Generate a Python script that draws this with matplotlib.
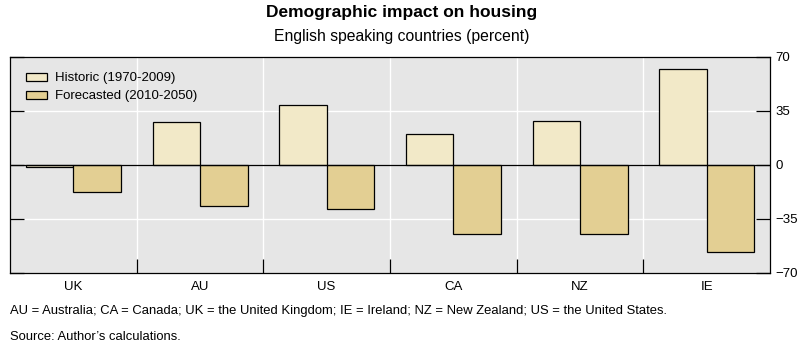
import matplotlib.pyplot as plt
import numpy as np

plt.rcParams['font.family'] = ['Liberation Sans', 'DejaVu Sans']

# data
countries = ["UK", "AU", "US", "CA", "NZ", "IE"]
historic = [-1.3, 28, 39, 20.3, 28.7, 62.4]
forecast = [-17.5, -26.4, -28.5, -45.2, -45.2, -56.4]
y_ticks = [70, 35, 0, -35, -70]

def main():
    fig = plt.figure(figsize=(8.03, 3.49), dpi=100)
    ax = fig.add_axes([0.01245, 0.2186, 0.9465, 0.6181])
    ax.set_facecolor("#e6e6e6")

    x = np.arange(len(countries))
    w = 0.375
    ax.bar(x - w / 2, historic, w, color="#f2e9c8", edgecolor="black",
           linewidth=0.9, label="Historic (1970-2009)", zorder=3)
    ax.bar(x + w / 2, forecast, w, color="#e3cf93", edgecolor="black",
           linewidth=0.9, label="Forecasted (2010-2050)", zorder=3)

    ax.set_xlim(-0.5, len(countries) - 0.5)
    ax.set_ylim(-70, 70)
    ax.axhline(0, color="black", linewidth=0.9, zorder=4)

    # group boundaries: white grid + tick marks
    bounds = np.arange(len(countries) + 1) - 0.5
    ax.set_xticks(bounds[1:-1])
    ax.set_xticklabels([])
    ax.set_xticks(x, minor=True)
    ax.set_xticklabels(countries, minor=True, fontsize=9.5)
    ax.tick_params(axis="x", which="major", direction="in", length=10,
                   width=0.9, color="black")
    ax.tick_params(axis="x", which="minor", length=0, pad=6)
    for b in bounds[1:-1]:
        ax.axvline(b, color="white", linewidth=1.0, zorder=1)

    ax.set_yticks(y_ticks)
    ax.set_yticklabels(["70", "35", "0", "\u221235", "\u221270"], fontsize=9.5)
    ax.yaxis.tick_right()
    ax.tick_params(axis="y", direction="in", length=10, width=0.9,
                   left=True, right=True, labelleft=False, labelright=True,
                   pad=4)
    for v in [35, -35]:
        ax.axhline(v, color="white", linewidth=1.0, zorder=1)

    for s in ax.spines.values():
        s.set_linewidth(0.9)
        s.set_color("black")

    ax.legend(loc="upper left", frameon=False, fontsize=9.5,
              handlelength=1.65, handleheight=0.6, handletextpad=0.55,
              bbox_to_anchor=(0.0084, 0.971), borderaxespad=0.3,
              labelspacing=0.45)

    fig.text(0.5, 1 - 12 / 349, "Demographic impact on housing", ha="center",
             va="center", fontsize=12.5, fontweight="bold")
    fig.text(0.5, 1 - 37 / 349, "English speaking countries (percent)",
             ha="center", va="center", fontsize=11.3)
    fig.text(10 / 803, 1 - 311 / 349,
             "AU = Australia; CA = Canada; UK = the United Kingdom; IE = Ireland; "
             "NZ = New Zealand; US = the United States.",
             ha="left", va="center", fontsize=9.4)
    fig.text(10 / 803, 1 - 337 / 349, "Source: Author\u2019s calculations.",
             ha="left", va="center", fontsize=9.4)

    fig.savefig("out.png", dpi=100, facecolor="white")

if __name__ == "__main__":
    main()
